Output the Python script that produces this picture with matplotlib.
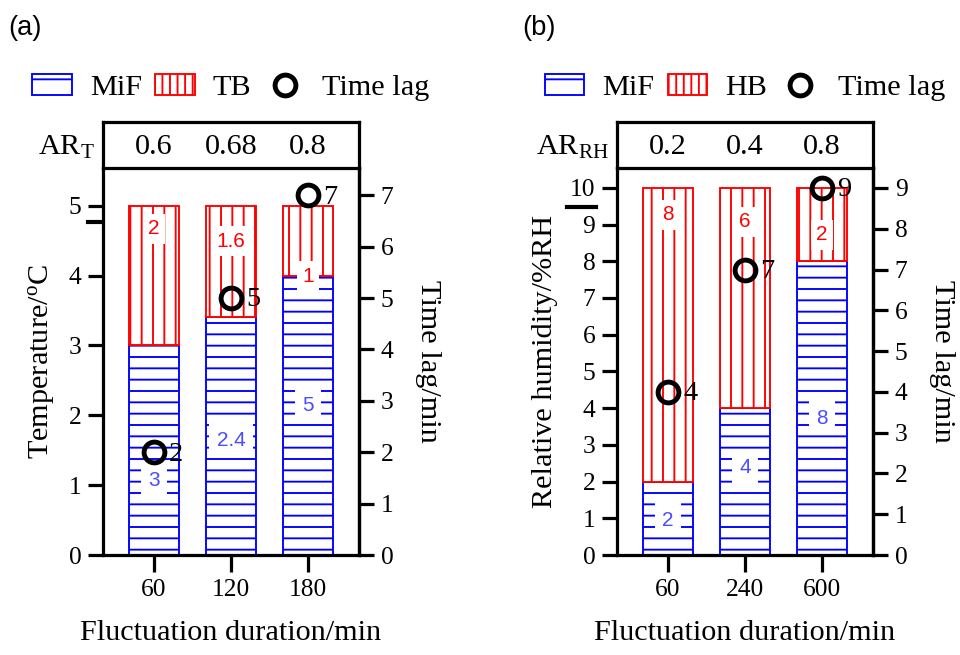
import matplotlib
matplotlib.use("Agg")
import matplotlib.pyplot as plt
from matplotlib.patches import Patch
from matplotlib.lines import Line2D

# 数据
durations_t = ["60", "120", "180"]
ar_t = ["0.6", "0.68", "0.8"]
mif_t = [3, 3.4, 4]
tb_t = [2, 1.6, 1]
lag_t = [2, 5, 7]
mif_t_text = ["3", "2.4", "5"]
tb_t_text = ["2", "1.6", "1"]

durations_rh = ["60", "240", "600"]
ar_rh = ["0.2", "0.4", "0.8"]
mif_rh = [2, 4, 8]
hb_rh = [8, 6, 2]
lag_rh = [4, 7, 9]
mif_rh_text = ["2", "4", "8"]
hb_rh_text = ["8", "6", "2"]

# 标签位置 (左轴刻度)
mif_t_pos = [1.07, 1.64, 2.14]
tb_t_pos = [4.67, 4.49, 3.99]
mif_rh_pos = [0.95, 2.37, 3.73]
hb_rh_pos = [9.26, 9.07, 8.72]

DPI = 136
plt.rcParams['font.family'] = ['Liberation Serif', 'DejaVu Serif']
plt.rcParams['mathtext.fontset'] = 'custom'
plt.rcParams['mathtext.rm'] = 'Liberation Serif'
plt.rcParams['mathtext.it'] = 'Liberation Serif:italic'
plt.rcParams['hatch.linewidth'] = 1.0

BLUE = '#0000ff'
RED = '#ff0000'
LAB_BLUE = '#4b4bff'
TICK_FS = 13.5
BIG_FS = 16
LW = 1.7

fig = plt.figure(figsize=(960 / DPI, 655 / DPI), dpi=DPI)


def panel(left, labels, ar, ar_name, mif, top, top_name, lag, mif_text, top_text,
          mif_pos, top_pos, ylim, yticks, ylim2, yticks2, ylabel, tag, underline):
    W = 256 / 960
    ax = fig.add_axes([left, 100 / 655, W, 387 / 655])
    box = fig.add_axes([left, 487 / 655, W, 46 / 655])
    x = list(range(len(labels)))
    ax.bar(x, mif, width=0.66, color='white', edgecolor=BLUE, hatch='--', lw=1.0)
    ax.bar(x, top, width=0.66, bottom=mif, color='white', edgecolor=RED, hatch='||', lw=1.0)
    for i in x:
        ax.text(i, mif_pos[i], mif_text[i], color=LAB_BLUE, fontsize=11, family='Liberation Sans',
                ha='center', va='center',
                bbox=dict(facecolor='white', edgecolor='none', pad=4))
        ax.text(i, top_pos[i], top_text[i], color=RED, fontsize=11, family='Liberation Sans',
                ha='center', va='center',
                bbox=dict(facecolor='white', edgecolor='none', pad=3))
    ax.set_xlim(-0.662, 2.662)
    ax.set_ylim(*ylim)
    ax.set_yticks(yticks)
    ax.set_xticks(x)
    ax.set_xticklabels(labels)
    ax.spines['top'].set_visible(False)
    for s in ['left', 'right', 'bottom']:
        ax.spines[s].set_linewidth(LW)
    ax.tick_params(direction='out', length=8, width=LW, labelsize=TICK_FS)
    ax.tick_params(axis='x', length=9)
    ax.set_ylabel(ylabel, fontsize=BIG_FS, labelpad=6)
    ax.set_xlabel("Fluctuation duration/min", fontsize=BIG_FS, labelpad=10)

    ax2 = ax.twinx()
    ax2.set_ylim(*ylim2)
    ax2.set_yticks(yticks2)
    ax2.spines['top'].set_visible(False)
    ax2.spines['right'].set_linewidth(LW)
    ax2.tick_params(direction='out', length=8, width=LW, labelsize=TICK_FS)
    ax2.plot(x, lag, 'o', ms=11, mfc='none', mec='black', mew=2.6, zorder=5)
    for i in x:
        ax2.annotate(str(lag[i]), (i, lag[i]), xytext=(8, -1), textcoords='offset points',
                     ha='left', va='center', fontsize=15)
    ax2.set_ylabel("Time lag/min", fontsize=BIG_FS, rotation=-90, labelpad=25)

    box.set_xlim(-0.662, 2.662)
    box.set_ylim(0, 1)
    box.set_xticks([])
    box.set_yticks([])
    for s in box.spines.values():
        s.set_linewidth(LW)
    for i in x:
        box.text(i, 0.45, ar[i], ha='center', va='center', fontsize=BIG_FS)
    box.text(-0.03, 0.45, ar_name, transform=box.transAxes, ha='right', va='center',
             fontsize=BIG_FS)

    handles = [Patch(facecolor='white', edgecolor=BLUE, hatch='-'),
               Patch(facecolor='white', edgecolor=RED, hatch='|||'),
               Line2D([], [], marker='o', ls='none', ms=11, mfc='none', mec='black', mew=2.6)]
    box.legend(handles, ["MiF", top_name, "Time lag"], ncol=3, frameon=False,
               loc='center', bbox_to_anchor=(0.5, 1.75), fontsize=BIG_FS,
               handlelength=1.3, handleheight=0.7, handletextpad=0.6, columnspacing=0.45,
               borderaxespad=0)

    fig.text(left - 95 / 960, 1 - 28 / 655, tag, family='Liberation Sans', fontsize=14.5,
             va='center', ha='left')
    fig.add_artist(Line2D(underline[0], underline[1], color='black', lw=2.2))
    return ax


panel(103 / 960, durations_t, ar_t, r"AR$_\mathrm{T}$", mif_t, tb_t, "TB", lag_t,
      mif_t_text, tb_t_text, mif_t_pos, tb_t_pos, (0, 5.54), range(0, 6), (0, 7.53),
      range(0, 8), r"Temperature/$^\mathrm{o}$C", "(a)",
      ([88 / 960, 101 / 960], [1 - 222 / 655, 1 - 222 / 655]))

panel(617 / 960, durations_rh, ar_rh, r"AR$_\mathrm{RH}$", mif_rh, hb_rh, "HB", lag_rh,
      mif_rh_text, hb_rh_text, mif_rh_pos, hb_rh_pos, (0, 10.54), range(0, 11), (0, 9.49),
      range(0, 10), "Relative humidity/%RH", "(b)",
      ([567 / 960, 596 / 960], [1 - 207 / 655, 1 - 207 / 655]))

fig.savefig("out.png", dpi=DPI)
